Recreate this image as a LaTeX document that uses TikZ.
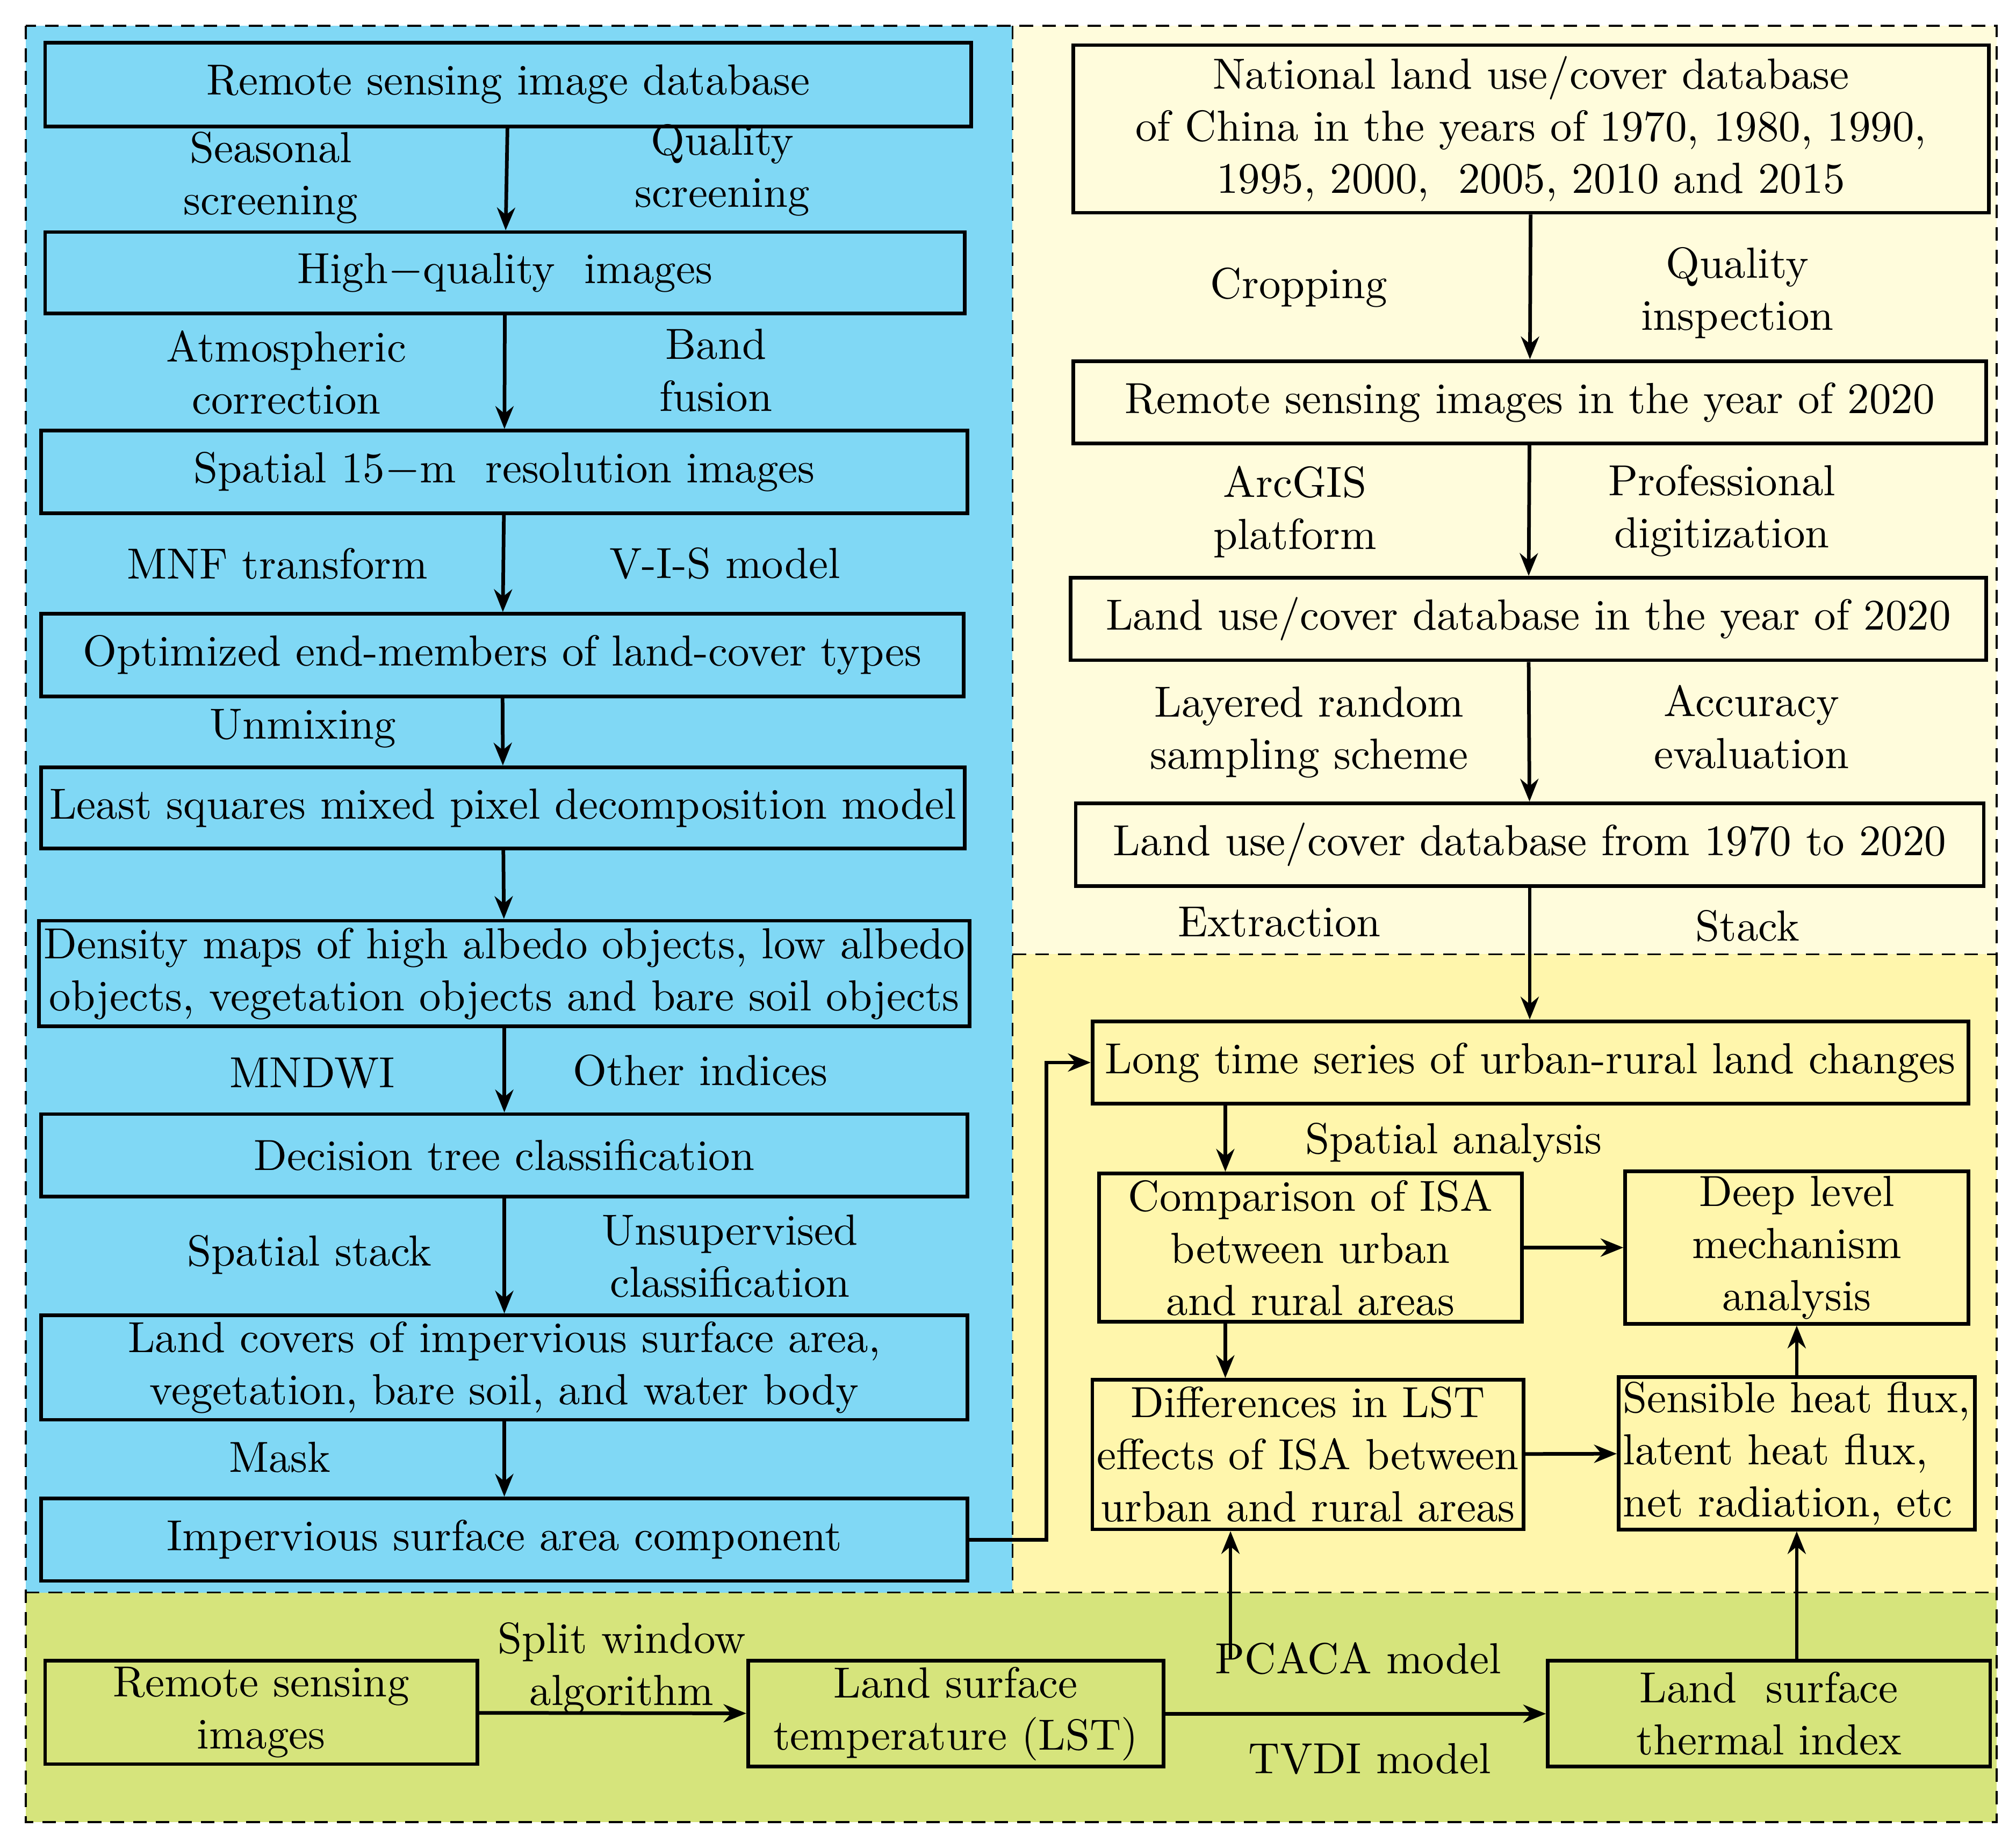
\documentclass[tikz,border=0pt]{standalone}
\usetikzlibrary{arrows.meta}
\definecolor{bgblue}{HTML}{80D8F5}
\definecolor{bgpale}{HTML}{FFFCDC}
\definecolor{bgyellow}{HTML}{FFF6AC}
\definecolor{bggreen}{HTML}{D6E47C}
\tikzset{
  box/.style={draw, thick, inner sep=1pt, align=center, font=\fontsize{9.6}{11.5}\selectfont},
  lbl/.style={align=center, font=\fontsize{9.6}{11.5}\selectfont},
  flow/.style={thick, -{Stealth[length=5pt,width=4pt]}},
  zone/.style={densely dashed, thin}
}
\begin{document}
\begin{tikzpicture}
  \useasboundingbox (0,0) rectangle (15.63,-14.23);
  % background zones
  \fill[white] (0,0) rectangle (15.63,-14.23);
  \fill[bgblue] (0.2,-0.2) rectangle (7.85,-12.35);
  \fill[bgpale] (7.85,-0.2) rectangle (15.48,-7.4);
  \fill[bgyellow] (7.85,-7.4) rectangle (15.48,-12.35);
  \fill[bggreen] (0.2,-12.35) rectangle (15.48,-14.13);
  \draw[zone] (0.2,-0.2) rectangle (15.48,-14.13);
  \draw[zone] (7.85,-0.2) -- (7.85,-12.35);
  \draw[zone] (7.85,-7.4) -- (15.48,-7.4);
  \draw[zone] (0.2,-12.35) -- (15.48,-12.35);

  % left column
  \node[box, minimum width=7.18cm, minimum height=0.65cm] (L1) at (3.94,-0.655) {Remote sensing image database};
  \node[box, minimum width=7.13cm, minimum height=0.63cm] (L2) at (3.915,-2.115) {High$-$quality\ \ images};
  \node[box, minimum width=7.18cm, minimum height=0.64cm] (L3) at (3.91,-3.66) {Spatial 15$-$m\ \ resolution images};
  \node[box, minimum width=7.15cm, minimum height=0.64cm] (L4) at (3.895,-5.08) {Optimized end-members of land-cover types};
  \node[box, minimum width=7.16cm, minimum height=0.63cm] (L5) at (3.90,-6.265) {Least squares mixed pixel decomposition model};
  \node[box, minimum width=7.18cm, minimum height=0.82cm] (L6) at (3.91,-7.55) {Density maps of high albedo objects, low albedo\\objects, vegetation objects and bare soil objects};
  \node[box, minimum width=7.18cm, minimum height=0.64cm] (L7) at (3.91,-8.96) {Decision tree classification};
  \node[box, minimum width=7.18cm, minimum height=0.81cm] (L8) at (3.91,-10.605) {Land covers of impervious surface area,\\vegetation, bare soil, and water body};
  \node[box, minimum width=7.18cm, minimum height=0.64cm] (L9) at (3.91,-11.94) {Impervious surface area component};

  % right column
  \node[box, minimum width=7.1cm, minimum height=1.3cm] (R1) at (11.87,-1.0) {National land use/cover database\\of China in the years of 1970, 1980, 1990,\\1995, 2000,\ \ 2005, 2010 and 2015};
  \node[box, minimum width=7.08cm, minimum height=0.64cm] (R2) at (11.86,-3.12) {Remote sensing images in the year of 2020};
  \node[box, minimum width=7.1cm, minimum height=0.64cm] (R3) at (11.85,-4.8) {Land use/cover database in the year of 2020};
  \node[box, minimum width=7.04cm, minimum height=0.64cm] (R4) at (11.86,-6.55) {Land use/cover database from 1970 to 2020};
  \node[box, minimum width=6.79cm, minimum height=0.64cm] (R5) at (11.865,-8.24) {Long time series of urban-rural land changes};
  \node[box, minimum width=3.28cm, minimum height=1.15cm] (R6) at (10.16,-9.675) {Comparison of ISA\\between urban\\and rural areas};
  \node[box, minimum width=2.66cm, minimum height=1.15cm] (R7) at (13.93,-9.675) {Deep level\\mechanism\\analysis};
  \node[box, minimum width=3.28cm, minimum height=1.16cm] (R8) at (10.14,-11.28) {Differences in LST\\effects of ISA between\\urban and rural areas};
  \node[box, minimum width=2.66cm, minimum height=1.18cm, align=left] (R9) at (13.93,-11.27) {Sensible heat flux,\\latent heat flux,\\net radiation, etc};

  % bottom row
  \node[box, minimum width=3.35cm, minimum height=0.8cm] (B1) at (2.025,-13.28) {Remote sensing\\images};
  \node[box, minimum width=3.22cm, minimum height=0.82cm] (B2) at (7.41,-13.29) {Land surface\\temperature (LST)};
  \node[box, minimum width=3.43cm, minimum height=0.82cm] (B3) at (13.715,-13.29) {Land\ \ surface\\thermal index};

  % labels
  \node[lbl] (t1) at (2.10,-1.38) {Seasonal\\screening};
  \node[lbl] (t2) at (5.60,-1.32) {Quality\\screening};
  \node[lbl] (t3) at (2.22,-2.89) {Atmospheric\\correction};
  \node[lbl] (t4) at (5.55,-2.87) {Band\\fusion};
  \node[lbl] (t5) at (2.15,-4.37) {MNF transform};
  \node[lbl] (t6) at (5.62,-4.37) {V-I-S model};
  \node[lbl] (t7) at (2.35,-5.65) {Unmixing};
  \node[lbl] (t8) at (2.42,-8.32) {MNDWI};
  \node[lbl] (t9) at (5.43,-8.30) {Other indices};
  \node[lbl] (t10) at (2.40,-9.73) {Spatial stack};
  \node[lbl] (t11) at (5.66,-9.74) {Unsupervised\\classification};
  \node[lbl] (t12) at (2.17,-11.30) {Mask};
  \node[lbl] (t13) at (10.07,-2.23) {Cropping};
  \node[lbl] (t14) at (13.47,-2.27) {Quality\\inspection};
  \node[lbl] (t15) at (10.04,-3.97) {ArcGIS\\platform};
  \node[lbl] (t16) at (13.35,-3.96) {Professional\\digitization};
  \node[lbl] (t17) at (10.15,-5.68) {Layered random\\sampling scheme};
  \node[lbl] (t18) at (13.58,-5.64) {Accuracy\\evaluation};
  \node[lbl] (t19) at (9.92,-7.15) {Extraction};
  \node[lbl] (t20) at (13.55,-7.18) {Stack};
  \node[lbl] (t21) at (11.27,-8.86) {Spatial analysis};
  \node[lbl] (t22) at (4.82,-12.94) {Split window\\algorithm};
  \node[lbl] (t23) at (10.53,-12.86) {PCACA model};
  \node[lbl] (t24) at (10.62,-13.64) {TVDI model};

  % connectors
  \draw[flow] (L1) -- (L2);
  \draw[flow] (L2) -- (L3);
  \draw[flow] (L3) -- (L4);
  \draw[flow] (L4) -- (L5);
  \draw[flow] (L5) -- (L6);
  \draw[flow] (L6) -- (L7);
  \draw[flow] (L7) -- (L8);
  \draw[flow] (L8) -- (L9);
  \draw[flow] (R1) -- (R2);
  \draw[flow] (R2) -- (R3);
  \draw[flow] (R3) -- (R4);
  \draw[flow] (R4.south) -- (R4.south |- R5.north);
  \draw[flow] (L9.east) -- ++(0.6,0) |- (R5.west);
  \draw[flow] ([xshift=-0.66cm]R6.north |- R5.south) -- ([xshift=-0.66cm]R6.north);
  \draw[flow] ([xshift=-0.66cm]R6.south) -- ([xshift=-0.66cm]R6.south |- R8.north);
  \draw[flow] (R6) -- (R7);
  \draw[flow] (R8) -- (R9);
  \draw[flow] (R9) -- (R7);
  \draw[flow] (B1) -- (B2);
  \draw[flow] (B2) -- (B3);
  \draw[flow] (B3.north -| R9) -- (R9.south);
  \draw[flow] ([xshift=-0.6cm]B2.north -| R8.south) -- ([xshift=-0.6cm]R8.south) coordinate (e);
\end{tikzpicture}
\end{document}
